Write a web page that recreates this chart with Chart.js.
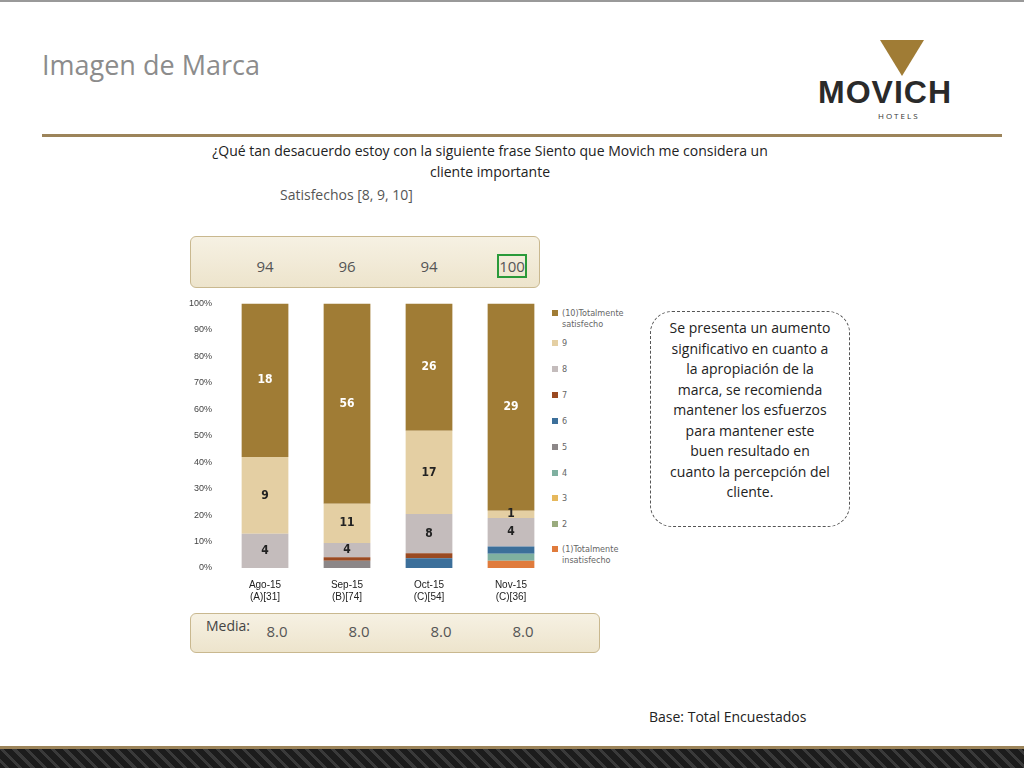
<!DOCTYPE html>
<html>
<head>
<meta charset="utf-8">
<script src="https://cdn.jsdelivr.net/npm/chart.js@4"></script>
<style>
body { margin:0; width:1024px; height:768px; position:relative; background:#fff; font-family:"Open Sans", Calibri, sans-serif; overflow:hidden; }
.abs { position:absolute; }
#title { left:42px; top:46px; font-size:27px; color:#8c8c8c; }
#rule { left:42px; top:134px; width:960px; height:3px; background:#9c845a; }
#mark { left:880px; top:40px; width:0; height:0; border-left:22px solid transparent; border-right:22px solid transparent; border-top:36px solid #a07c35; }
#logo { left:818px; top:74px; font-size:32px; font-weight:bold; color:#2a2a2a; letter-spacing:1px; font-family:"Liberation Sans", sans-serif; }
#hotels { left:878px; top:110px; font-size:8px; letter-spacing:2px; color:#333; }
#q { left:200px; top:140px; width:580px; text-align:center; font-size:14px; color:#222; line-height:21px; }
#sat { left:280px; top:185px; font-size:14px; color:#555; }
.box { background:linear-gradient(#f6f1e3,#ede4cc); border:1px solid #c9b88f; border-radius:6px; }
#topbox { left:190px; top:236px; width:348px; height:50px; }
#midbox { left:190px; top:613px; width:408px; height:38px; }
.num { font-size:15px; color:#555; width:40px; text-align:center; }
#note { left:650px; top:311px; width:200px; height:216px; border:1.5px dashed #555; border-radius:22px; text-align:center; font-size:14px; line-height:20.5px; color:#222; padding:6px 18px 0; box-sizing:border-box; }
#base { left:649px; top:707px; font-size:14px; color:#222; }
#strip { left:0; top:746px; width:1024px; height:22px; background:repeating-linear-gradient(45deg,#1c1c1c 0 6px,#3a3a3a 6px 9px); border-top:3px solid #9c845a; }
#topline { left:0; top:0; width:1024px; height:2px; background:#999; }
#legend { left:552px; top:308px; width:70px; font-size:9px; color:#666; line-height:11px; font-family:"DejaVu Sans Condensed", sans-serif; }
#legend div { position:absolute; left:10px; width:62px; }
#legend span { position:absolute; left:-10px; top:2px; width:6px; height:6px; }
</style>
</head>
<body>
<div id="topline" class="abs"></div>
<div id="title" class="abs">Imagen de Marca</div>
<div id="mark" class="abs"></div>
<div id="logo" class="abs">MOVICH</div>
<div id="hotels" class="abs">HOTELS</div>
<div id="rule" class="abs"></div>
<div id="q" class="abs">¿Qué tan desacuerdo estoy con la siguiente frase Siento que Movich me considera un cliente importante</div>
<div id="sat" class="abs">Satisfechos [8, 9, 10]</div>
<div id="topbox" class="abs box"></div>
<div id="midbox" class="abs box"></div>
<div class="abs" style="left:206px;top:616px;font-size:14px;color:#444;">Media:</div>
<div id="note" class="abs">Se presenta un aumento significativo en cuanto a la apropiación de la marca, se recomienda mantener los esfuerzos para mantener este buen resultado en cuanto la percepción del cliente.</div>
<div id="base" class="abs">Base: Total Encuestados</div>
<div id="strip" class="abs"></div>
<div id="legend" class="abs"></div>
<canvas id="c" class="abs" style="left:185px;top:294px;width:445px;height:312px"></canvas>
<script>
const categories = [['Ago-15', '(A)[31]'], ['Sep-15', '(B)[74]'], ['Oct-15', '(C)[54]'], ['Nov-15', '(C)[36]']];
const seriesNames = ['(1)Totalmente insatisfecho', '2', '3', '4', '5', '6', '7', '8', '9', '(10)Totalmente satisfecho'];
const seriesColors = ['#e07b3c', '#9aab7e', '#e6b85c', '#7fb0a0', '#8c8788', '#3c6f9a', '#9a4a22', '#c4bcbc', '#e4cfa3', '#a07c35'];
// counts per score, one row per series (1..10), one column per month
const counts = [
  [0, 0, 0, 1],
  [0, 0, 0, 0],
  [0, 0, 0, 0],
  [0, 0, 0, 1],
  [0, 2, 0, 0],
  [0, 0, 2, 1],
  [0, 1, 1, 0],
  [4, 4, 8, 4],
  [9, 11, 17, 1],
  [18, 56, 26, 29]
];
const satisfied = ['94', '96', '94', '100'];
const media = ['8.0', '8.0', '8.0', '8.0'];
const yTicks = [0, 10, 20, 30, 40, 50, 60, 70, 80, 90, 100];

const totals = categories.map((_, i) => counts.reduce((s, r) => s + r[i], 0));
const datasets = counts.map((row, k) => ({
  label: seriesNames[k],
  data: row.map((v, i) => v / totals[i] * 100),
  raw: row,
  backgroundColor: seriesColors[k],
  barPercentage: 0.57,
  categoryPercentage: 1
}));

// html legend, top entry = series 10
const legend = document.getElementById('legend');
const legendTops = [236, 211, 185, 160, 134, 108, 82, 56, 30, 0];
seriesNames.forEach((name, k) => {
  const d = document.createElement('div');
  d.style.top = legendTops[k] + 'px';
  d.innerHTML = '<span style="background:' + seriesColors[k] + '"></span>' + name;
  legend.appendChild(d);
});

const labelPlugin = {
  id: 'segLabels',
  afterDatasetsDraw(chart) {
    const ctx = chart.ctx;
    ctx.save();
    ctx.font = 'bold 12px "DejaVu Sans Condensed", sans-serif';
    ctx.textAlign = 'center';
    ctx.textBaseline = 'middle';
    chart.data.datasets.forEach((ds, k) => {
      if (k < 7) return;
      chart.getDatasetMeta(k).data.forEach((bar, i) => {
        const v = ds.raw[i];
        if (!v) return;
        ctx.fillStyle = k === 9 ? '#fff' : '#222';
        ctx.fillText(v, bar.x, (bar.y + bar.base) / 2);
      });
    });
    ctx.restore();
    chart.getDatasetMeta(9).data.forEach((bar, i) => {
      const x = 185 + bar.x;
      const d1 = document.createElement('div');
      d1.className = 'abs num';
      d1.style.left = (x - 20) + 'px'; d1.style.top = '256px';
      d1.textContent = satisfied[i];
      if (i === 3) { d1.style.border = '2px solid #2a9a3a'; d1.style.width = '26px'; d1.style.left = (x - 14) + 'px'; d1.style.top = '254px'; }
      document.body.appendChild(d1);
      const d2 = document.createElement('div');
      d2.className = 'abs num';
      d2.style.left = (x - 8) + 'px'; d2.style.top = '621px';
      d2.textContent = media[i];
      document.body.appendChild(d2);
    });
  }
};

new Chart(document.getElementById('c'), {
  type: 'bar',
  data: { labels: categories, datasets: datasets },
  options: {
    responsive: false,
    animation: false,
    devicePixelRatio: 1,
    layout: { padding: { top: 8, right: 78 } },
    plugins: {
      tooltip: { enabled: false },
      legend: { display: false }
    },
    scales: {
      x: {
        stacked: true,
        grid: { display: false },
        border: { display: false },
        ticks: { color: '#222', font: { size: 10 } }
      },
      y: {
        stacked: true,
        min: 0, max: 100,
        afterBuildTicks: axis => { axis.ticks = yTicks.map(v => ({ value: v })); },
        grid: { display: false },
        border: { display: false },
        ticks: { color: '#444', font: { size: 9 }, padding: 4, callback: v => v + '%' }
      }
    }
  },
  plugins: [labelPlugin]
});
</script>
</body>
</html>
